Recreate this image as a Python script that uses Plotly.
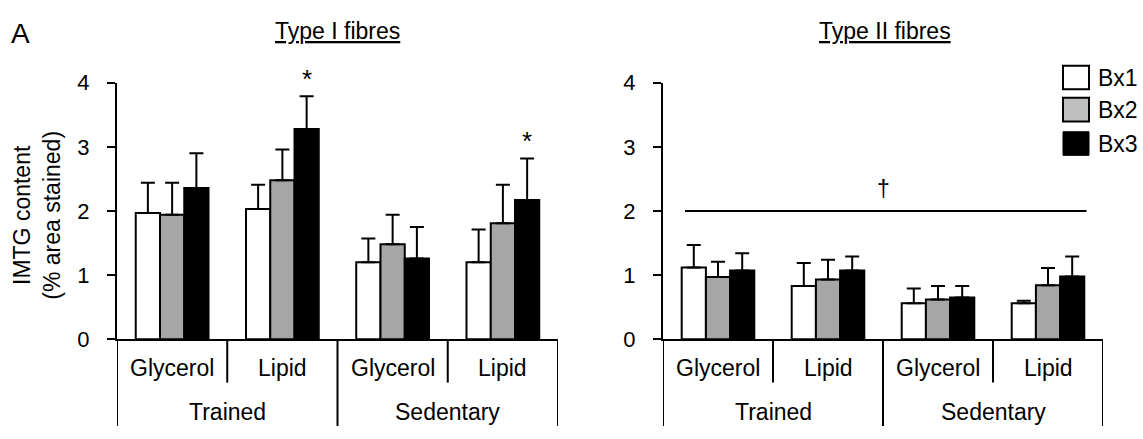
import plotly.graph_objects as go

# ---------------- data ----------------
conditions = ["Glycerol", "Lipid", "Glycerol", "Lipid"]
groups = ["Trained", "Sedentary"]
series = ["Bx1", "Bx2", "Bx3"]
positions = [0, 1, 2, 3]

type1_bx1 = [1.97, 2.03, 1.20, 1.20]
type1_bx2 = [1.94, 2.48, 1.48, 1.81]
type1_bx3 = [2.36, 3.28, 1.26, 2.17]
type1_bx1_err = [0.47, 0.38, 0.37, 0.51]
type1_bx2_err = [0.50, 0.48, 0.46, 0.60]
type1_bx3_err = [0.54, 0.51, 0.49, 0.65]

type2_bx1 = [1.12, 0.83, 0.56, 0.56]
type2_bx2 = [0.97, 0.93, 0.62, 0.84]
type2_bx3 = [1.07, 1.07, 0.65, 0.98]
type2_bx1_err = [0.35, 0.36, 0.23, 0.04]
type2_bx2_err = [0.24, 0.31, 0.21, 0.27]
type2_bx3_err = [0.27, 0.22, 0.18, 0.31]

y_ticks = [0, 1, 2, 3, 4]

# ---------------- style ----------------
FONT = "Liberation Sans, Arial, sans-serif"
FS = 23
bar_colors = ["#FFFFFF", "#A6A6A6", "#000000"]
legend_colors = ["#FFFFFF", "#BFBFBF", "#000000"]
W, H = 1143, 439

def py(p):  # pixel y (from top) -> paper fraction
    return 1 - p / H

def px(p):
    return p / W

y0_px, y4_px = 347, 75
ydom = [py(y0_px), py(y4_px)]
x1dom = [px(117), px(558)]
x2dom = [px(663), px(1103)]

fig = go.Figure()

panels = [
    ("x", "y", [type1_bx1, type1_bx2, type1_bx3], [type1_bx1_err, type1_bx2_err, type1_bx3_err]),
    ("x2", "y2", [type2_bx1, type2_bx2, type2_bx3], [type2_bx1_err, type2_bx2_err, type2_bx3_err]),
]
for xa, ya, vals, errs in panels:
    for name, v, e, c in zip(series, vals, errs, bar_colors):
        fig.add_trace(go.Bar(
            x=positions, y=v, name=name, xaxis=xa, yaxis=ya,
            marker=dict(color=c, line=dict(color="#000000", width=2)),
            error_y=dict(type="data", array=e, arrayminus=[0] * len(e), symmetric=False,
                         color="#000000", thickness=2, width=7),
            showlegend=False, hoverinfo="skip",
        ))

axis_common = dict(range=[-0.5, 3.5], showline=True, linecolor="#000000", linewidth=2,
                   showticklabels=False, ticks="", showgrid=False, zeroline=False, fixedrange=True)
yaxis_common = dict(range=[0, 4], tickvals=y_ticks, showline=True, linecolor="#000000", linewidth=2,
                    ticks="outside", ticklen=8, tickwidth=2, tickcolor="#000000",
                    showgrid=False, zeroline=False, ticklabelstandoff=13, fixedrange=True,
                    tickfont=dict(family=FONT, size=22, color="#000000"))

fig.update_layout(
    width=W, height=H, margin=dict(l=0, r=0, t=0, b=0),
    paper_bgcolor="white", plot_bgcolor="white",
    barmode="group", bargap=0.34, bargroupgap=0,
    xaxis=dict(domain=x1dom, anchor="y", **axis_common),
    yaxis=dict(domain=ydom, anchor="x", **yaxis_common),
    xaxis2=dict(domain=x2dom, anchor="y2", **axis_common),
    yaxis2=dict(domain=ydom, anchor="x2", **yaxis_common),
    font=dict(family=FONT, size=FS, color="#000000"),
)

def ann(**kw):
    d = dict(showarrow=False, xanchor="center", yanchor="middle")
    d.update(kw)
    return d

shapes = []
annotations = []
for xa, ya in [("x", "y"), ("x2", "y2")]:
    for xv in [0.5, 2.5]:
        shapes.append(dict(type="line", xref=xa, yref="paper", x0=xv, x1=xv,
                           y0=py(347), y1=py(393), line=dict(color="#000000", width=2)))
    for xv in [-0.5, 1.5, 3.5]:
        shapes.append(dict(type="line", xref=xa, yref="paper", x0=xv, x1=xv,
                           y0=py(347), y1=py(439), line=dict(color="#000000", width=2)))
    for xv, lab in zip(positions, conditions):
        annotations.append(ann(x=xv, y=py(378), xref=xa, yref="paper", text=lab,
                               font=dict(size=FS)))
    for xv, lab in zip([0.5, 2.5], groups):
        annotations.append(ann(x=xv, y=py(424), xref=xa, yref="paper", text=lab,
                               font=dict(size=FS)))

# titles
annotations.append(ann(x=px(337), y=py(20), xref="paper", yref="paper", text="Type I fibres",
                       font=dict(size=FS, lineposition="under")))
annotations.append(ann(x=px(885), y=py(20), xref="paper", yref="paper", text="Type II fibres",
                       font=dict(size=FS, lineposition="under")))
annotations.append(ann(x=px(20), y=py(23), xref="paper", yref="paper", text="A",
                       font=dict(size=28)))
# y title
annotations.append(ann(x=px(37), y=py(216), xref="paper", yref="paper",
                       text="IMTG content<br>(% area stained)", textangle=-90,
                       font=dict(size=FS)))

# significance markers
annotations.append(ann(x=1.22, y=type1_bx3[1] + type1_bx3_err[1], xref="x", yref="y", text="*",
                       yanchor="bottom", font=dict(size=26)))
annotations.append(ann(x=3.22, y=type1_bx3[3] + type1_bx3_err[3], xref="x", yref="y", text="*",
                       yanchor="bottom", font=dict(size=26)))
shapes.append(dict(type="line", xref="x2", yref="y2", x0=-0.30, x1=3.35, y0=2, y1=2,
                   line=dict(color="#000000", width=2)))
annotations.append(ann(x=1.5, y=2.35, xref="x2", yref="y2", text="†", font=dict(size=FS)))

# legend (drawn)
leg_x0, leg_x1 = 1063, 1089
leg_tops = [57, 91, 127]
for name, c, top in zip(series, legend_colors, leg_tops):
    shapes.append(dict(type="rect", xref="paper", yref="paper",
                       x0=px(leg_x0), x1=px(leg_x1), y0=py(top + 25), y1=py(top),
                       fillcolor=c, line=dict(color="#000000", width=2 if c != "#000000" else 1)))
    annotations.append(ann(x=px(leg_x1 + 7), y=py(top + 13), xref="paper", yref="paper",
                           text=name, xanchor="left", font=dict(size=FS)))

fig.update_layout(shapes=shapes, annotations=annotations)
fig.write_html("out.html", config={"displayModeBar": False},
               post_script="document.body.style.margin='0px';")
